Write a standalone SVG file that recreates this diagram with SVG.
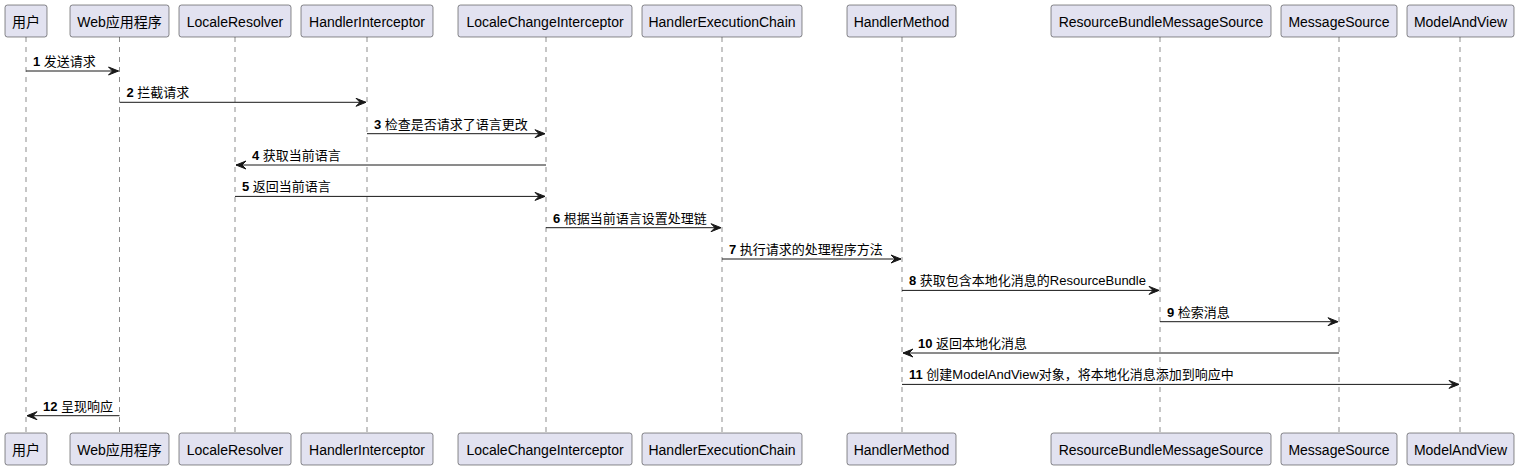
<svg xmlns="http://www.w3.org/2000/svg" width="1518" height="470" viewBox="0 0 1518 470">
<style>
.box{fill:#E2E2F0;stroke:#181818;stroke-width:0.5}
.pt{font-family:"Liberation Sans","Noto Sans CJK SC",sans-serif;font-size:14px;fill:#000;text-anchor:middle}
.life{stroke:#181818;stroke-width:0.5;stroke-dasharray:5,5;fill:none}
.msg{stroke:#181818;stroke-width:1;fill:none}
.head{fill:#181818;stroke:#181818;stroke-width:1}
.mt{font-family:"Liberation Sans","Noto Sans CJK SC",sans-serif;font-size:13px;fill:#000}
.n{font-weight:bold}
</style>
<rect width="1518" height="470" fill="#FFFFFF"/>
<g id="lifelines">
<line class="life" x1="26" y1="37" x2="26" y2="433"/>
<line class="life" x1="119.5" y1="37" x2="119.5" y2="433"/>
<line class="life" x1="235" y1="37" x2="235" y2="433"/>
<line class="life" x1="367" y1="37" x2="367" y2="433"/>
<line class="life" x1="546" y1="37" x2="546" y2="433"/>
<line class="life" x1="722" y1="37" x2="722" y2="433"/>
<line class="life" x1="902" y1="37" x2="902" y2="433"/>
<line class="life" x1="1160" y1="37" x2="1160" y2="433"/>
<line class="life" x1="1339" y1="37" x2="1339" y2="433"/>
<line class="life" x1="1460" y1="37" x2="1460" y2="433"/>
</g>
<g id="p-user">
<rect class="box" x="5" y="5" width="42" height="32" rx="2.5"/>
<text class="pt" x="26" y="27">用户</text>
<rect class="box" x="5" y="433" width="42" height="32" rx="2.5"/>
<text class="pt" x="26" y="455">用户</text>
</g>
<g id="p-web">
<rect class="box" x="70" y="5" width="99" height="32" rx="2.5"/>
<text class="pt" x="119.5" y="27">Web应用程序</text>
<rect class="box" x="70" y="433" width="99" height="32" rx="2.5"/>
<text class="pt" x="119.5" y="455">Web应用程序</text>
</g>
<g id="p-localeresolver">
<rect class="box" x="179" y="5" width="112" height="32" rx="2.5"/>
<text class="pt" x="235" y="27">LocaleResolver</text>
<rect class="box" x="179" y="433" width="112" height="32" rx="2.5"/>
<text class="pt" x="235" y="455">LocaleResolver</text>
</g>
<g id="p-handlerinterceptor">
<rect class="box" x="301" y="5" width="132" height="32" rx="2.5"/>
<text class="pt" x="367" y="27">HandlerInterceptor</text>
<rect class="box" x="301" y="433" width="132" height="32" rx="2.5"/>
<text class="pt" x="367" y="455">HandlerInterceptor</text>
</g>
<g id="p-localechangeinterceptor">
<rect class="box" x="458" y="5" width="174" height="32" rx="2.5"/>
<text class="pt" x="545" y="27">LocaleChangeInterceptor</text>
<rect class="box" x="458" y="433" width="174" height="32" rx="2.5"/>
<text class="pt" x="545" y="455">LocaleChangeInterceptor</text>
</g>
<g id="p-handlerexecutionchain">
<rect class="box" x="642" y="5" width="160" height="32" rx="2.5"/>
<text class="pt" x="722" y="27">HandlerExecutionChain</text>
<rect class="box" x="642" y="433" width="160" height="32" rx="2.5"/>
<text class="pt" x="722" y="455">HandlerExecutionChain</text>
</g>
<g id="p-handlermethod">
<rect class="box" x="847" y="5" width="109" height="32" rx="2.5"/>
<text class="pt" x="901.5" y="27">HandlerMethod</text>
<rect class="box" x="847" y="433" width="109" height="32" rx="2.5"/>
<text class="pt" x="901.5" y="455">HandlerMethod</text>
</g>
<g id="p-resourcebundlemessagesource">
<rect class="box" x="1051" y="5" width="220" height="32" rx="2.5"/>
<text class="pt" x="1161" y="27">ResourceBundleMessageSource</text>
<rect class="box" x="1051" y="433" width="220" height="32" rx="2.5"/>
<text class="pt" x="1161" y="455">ResourceBundleMessageSource</text>
</g>
<g id="p-messagesource">
<rect class="box" x="1281" y="5" width="116" height="32" rx="2.5"/>
<text class="pt" x="1339" y="27">MessageSource</text>
<rect class="box" x="1281" y="433" width="116" height="32" rx="2.5"/>
<text class="pt" x="1339" y="455">MessageSource</text>
</g>
<g id="p-modelandview">
<rect class="box" x="1407" y="5" width="107" height="32" rx="2.5"/>
<text class="pt" x="1460.5" y="27">ModelAndView</text>
<rect class="box" x="1407" y="433" width="107" height="32" rx="2.5"/>
<text class="pt" x="1460.5" y="455">ModelAndView</text>
</g>
<g id="connectors">
<line class="msg" x1="26" y1="71" x2="118.5" y2="71"/>
<polygon class="head" points="108.5,67 118.5,71 108.5,75 112.5,71"/>
<text class="mt" x="33" y="66"><tspan class="n">1</tspan> 发送请求</text>

<line class="msg" x1="119.5" y1="102.3" x2="366" y2="102.3"/>
<polygon class="head" points="356,98.3 366,102.3 356,106.3 360,102.3"/>
<text class="mt" x="126.5" y="97.3"><tspan class="n">2</tspan> 拦截请求</text>

<line class="msg" x1="367" y1="133.7" x2="545" y2="133.7"/>
<polygon class="head" points="535,129.7 545,133.7 535,137.7 539,133.7"/>
<text class="mt" x="374" y="128.7"><tspan class="n">3</tspan> 检查是否请求了语言更改</text>

<line class="msg" x1="236" y1="165" x2="546" y2="165"/>
<polygon class="head" points="246,161 236,165 246,169 242,165"/>
<text class="mt" x="252" y="160"><tspan class="n">4</tspan> 获取当前语言</text>

<line class="msg" x1="235" y1="196.4" x2="545" y2="196.4"/>
<polygon class="head" points="535,192.4 545,196.4 535,200.4 539,196.4"/>
<text class="mt" x="242" y="191.4"><tspan class="n">5</tspan> 返回当前语言</text>

<line class="msg" x1="546" y1="227.7" x2="721" y2="227.7"/>
<polygon class="head" points="711,223.7 721,227.7 711,231.7 715,227.7"/>
<text class="mt" x="553" y="222.7"><tspan class="n">6</tspan> 根据当前语言设置处理链</text>

<line class="msg" x1="722" y1="259" x2="901" y2="259"/>
<polygon class="head" points="891,255 901,259 891,263 895,259"/>
<text class="mt" x="729" y="254"><tspan class="n">7</tspan> 执行请求的处理程序方法</text>

<line class="msg" x1="902" y1="290.4" x2="1159" y2="290.4"/>
<polygon class="head" points="1149,286.4 1159,290.4 1149,294.4 1153,290.4"/>
<text class="mt" x="909" y="285.4"><tspan class="n">8</tspan> 获取包含本地化消息的ResourceBundle</text>

<line class="msg" x1="1160" y1="321.7" x2="1338" y2="321.7"/>
<polygon class="head" points="1328,317.7 1338,321.7 1328,325.7 1332,321.7"/>
<text class="mt" x="1167" y="316.7"><tspan class="n">9</tspan> 检索消息</text>

<line class="msg" x1="903" y1="353" x2="1339" y2="353"/>
<polygon class="head" points="913,349 903,353 913,357 909,353"/>
<text class="mt" x="918" y="348"><tspan class="n">10</tspan> 返回本地化消息</text>

<line class="msg" x1="902" y1="384.4" x2="1459" y2="384.4"/>
<polygon class="head" points="1449,380.4 1459,384.4 1449,388.4 1453,384.4"/>
<text class="mt" x="909" y="379.4"><tspan class="n">11</tspan> 创建ModelAndView对象，将本地化消息添加到响应中</text>

<line class="msg" x1="27" y1="415.7" x2="119.5" y2="415.7"/>
<polygon class="head" points="37,411.7 27,415.7 37,419.7 33,415.7"/>
<text class="mt" x="43" y="410.7"><tspan class="n">12</tspan> 呈现响应</text>
</g>
</svg>
